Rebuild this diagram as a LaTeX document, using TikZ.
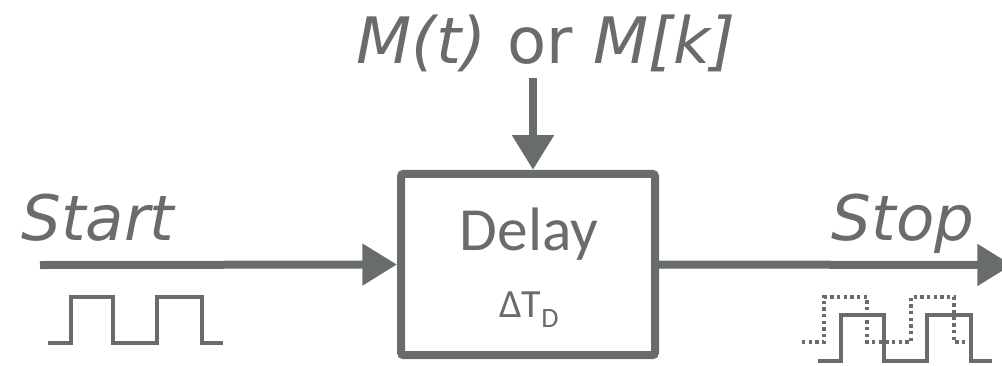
\documentclass[tikz,border=0pt]{standalone}
\usepackage{fontspec}
\setmainfont{DejaVu Sans}
\newfontfamily\boxfont{Carlito}
\usetikzlibrary{arrows.meta}
\definecolor{ink}{RGB}{104,108,108}
\begin{document}
\begin{tikzpicture}[x=0.75pt,y=-0.75pt,
  signal/.style={draw=ink,line width=6pt,-{Triangle[length=26pt,width=30pt]}},
  wave/.style={draw=ink,line width=2.5pt,line join=miter},
  ghost/.style={draw=ink,line width=2.5pt,dash pattern=on 2.5pt off 2.5pt},
  label/.style={text=ink,font=\itshape\fontsize{47}{50}\selectfont,anchor=base,inner sep=0pt},
  blockbox/.style={draw=ink,line width=6pt,rounded corners=2pt,minimum width=190.5pt,minimum height=136pt,inner sep=0pt}]
\useasboundingbox (0,0) rectangle (1002,365);
\clip (0,0) rectangle (1002,365);

% delay block
\node[blockbox] (delay) at (528,264.5) {};
\node[text=ink,font=\boxfont\fontsize{46}{50}\selectfont,anchor=base,inner sep=0pt] (dname) at (529,250) {Delay};
\node[text=ink,font=\boxfont\fontsize{30}{32}\selectfont,anchor=base,inner sep=0pt] (dt) at (529,317) {ΔT\raisebox{-8pt}{\fontsize{21}{24}\selectfont D}};

% signal labels
\node[label,font=\fontsize{48}{50}\selectfont] (mod) at (546,63) {\textit{M(t)} or \textit{M[k]}};
\node[label] (startlbl) at (98,240) {Start};
\node[label] (stoplbl) at (903,240) {Stop};

% connectors
\coordinate (in) at (40,265);
\coordinate (out) at (1012,265);
\coordinate (ctl) at (533,78);
\draw[signal] (in) -- (delay.west);
\draw[signal] (delay.east) -- (out);
\draw[signal] (ctl) -- (delay.north -| ctl);

% input pulse train
\draw[wave] (48,343) -- (71,343) -- (71,297) -- (113,297) -- (113,343) -- (157,343) -- (157,297) -- (202,297) -- (202,343) -- (223,343);

% delayed output pulse train with the undelayed one dotted behind it
\draw[ghost] (802,342) -- (824,342) -- (824,297) -- (867,297) -- (867,342) -- (911,342) -- (911,297) -- (954,297) -- (954,342) -- (973,342);
\draw[wave] (818,361) -- (841,361) -- (841,315) -- (884,315) -- (884,361) -- (927,361) -- (927,315) -- (971,315) -- (971,361) -- (992,361);
\end{tikzpicture}
\end{document}
